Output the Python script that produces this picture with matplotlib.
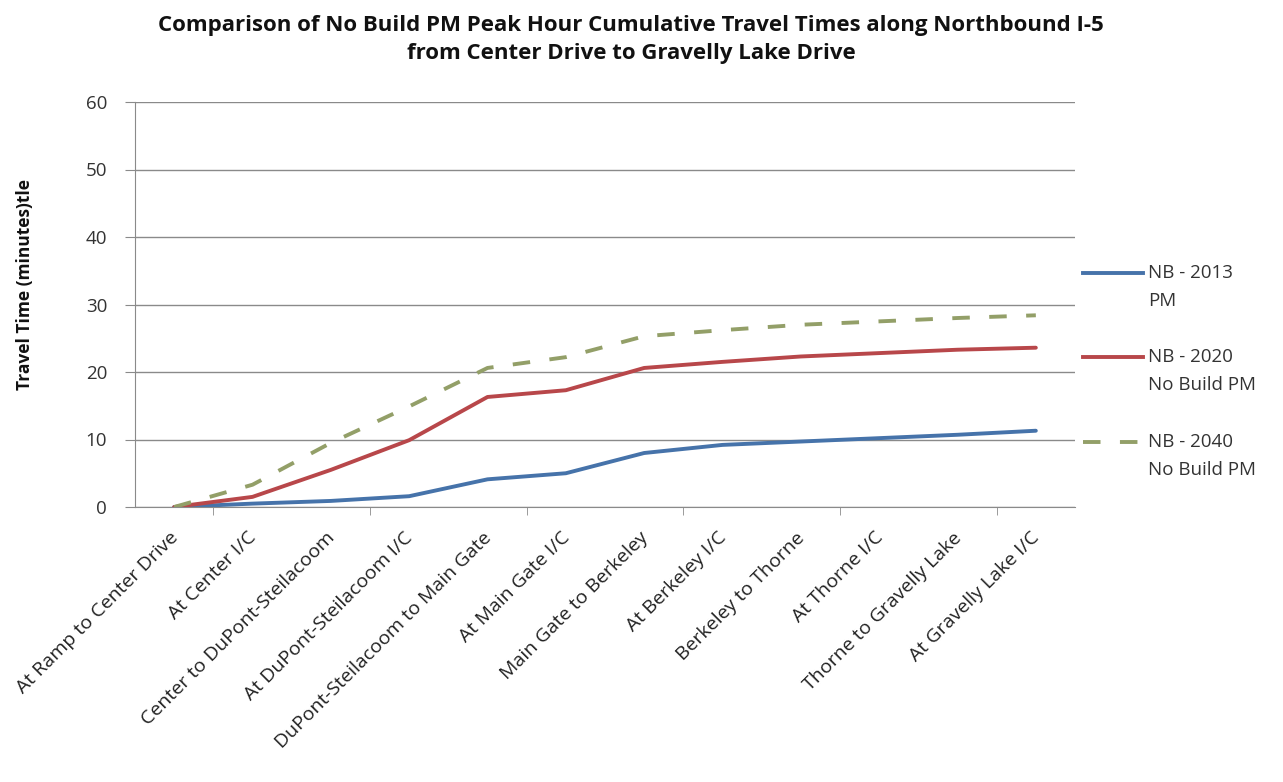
import matplotlib
matplotlib.use("Agg")
import matplotlib.pyplot as plt
from matplotlib.lines import Line2D

categories = ["At Ramp to Center Drive", "At Center I/C", "Center to DuPont-Steilacoom",
              "At DuPont-Steilacoom I/C", "DuPont-Steilacoom to Main Gate", "At Main Gate I/C",
              "Main Gate to Berkeley", "At Berkeley I/C", "Berkeley to Thorne", "At Thorne I/C",
              "Thorne to Gravelly Lake", "At Gravelly Lake I/C"]
nb2013 = [0.0, 0.5, 0.9, 1.6, 4.1, 5.0, 8.0, 9.2, 9.7, 10.2, 10.7, 11.3]
nb2020 = [0.0, 1.5, 5.5, 9.9, 16.3, 17.3, 20.6, 21.5, 22.3, 22.8, 23.3, 23.6]
nb2040 = [0.0, 3.3, 9.5, 14.9, 20.6, 22.2, 25.3, 26.2, 27.0, 27.5, 28.0, 28.4]
series_labels = [("NB - 2013", "PM"), ("NB - 2020", "No Build PM"), ("NB - 2040", "No Build PM")]
yticks = [0, 10, 20, 30, 40, 50, 60]

FONT = "Open Sans"
W, H = 1283, 782
fig = plt.figure(figsize=(W / 100, H / 100), dpi=100)
ax = fig.add_axes([135 / W, 1 - 507 / H, (1075 - 135) / W, (507 - 102) / H])

x = list(range(len(categories)))
colors = ["#4673AA", "#B8474A", "#939F68"]
styles = [dict(ls="-"), dict(ls="-"), dict(ls=(0, (4.5, 5.0)))]
for vals, c, st in zip([nb2013, nb2020, nb2040], colors, styles):
    ax.plot(x, vals, color=c, lw=2.8, solid_capstyle="round", **st)

ax.set_xlim(-0.5, len(categories) - 0.5)
ax.set_ylim(0, 60)
ax.set_yticks(yticks)
ax.set_yticklabels([str(v) for v in yticks], fontsize=13.5, family=FONT, color="#333333")
ax.yaxis.grid(True, color="#8a8a8a", lw=1.0)
ax.set_axisbelow(True)
ax.tick_params(axis="y", length=7, color="#8a8a8a", pad=13)

ax.set_xticks(x)
ax.set_xticklabels([])
ax.set_xticks([i + 0.5 for i in range(0, len(categories) - 1, 2)], minor=True)
ax.tick_params(axis="x", which="major", length=0)
ax.tick_params(axis="x", which="minor", length=6, color="#8a8a8a", direction="out")
for i, lab in enumerate(categories):
    ax.text(i - 0.07, -3.2, lab, rotation=45, ha="right", va="top", rotation_mode="anchor",
            fontsize=14, family=FONT, color="#222222")

for s in ["top", "right"]:
    ax.spines[s].set_visible(False)
for s in ["left", "bottom"]:
    ax.spines[s].set_color("#8a8a8a")

fig.text(631 / W, 1 - 25 / H, "Comparison of No Build PM Peak Hour Cumulative Travel Times along Northbound I-5",
         ha="center", va="center", fontsize=16, fontweight="bold", family=FONT, color="#111111")
fig.text(631 / W, 1 - 54 / H, "from Center Drive to Gravelly Lake Drive",
         ha="center", va="center", fontsize=16, fontweight="bold", family=FONT, color="#111111")
fig.text(25 / W, 1 - 285 / H, "Travel Time (minutes)tle", rotation=90, ha="center", va="center",
         fontsize=12.5, fontweight="bold", family=FONT, color="#111111")

leg_y = [273, 357, 442]
for yy, c, st, (l1, l2) in zip(leg_y, colors, styles, series_labels):
    fig.add_artist(Line2D([1083 / W, 1143 / W], [1 - yy / H, 1 - yy / H], color=c, lw=2.8,
                          transform=fig.transFigure, **st))
    fig.text(1148 / W, 1 - yy / H, l1, ha="left", va="center", fontsize=13.5, family=FONT, color="#333333")
    fig.text(1148 / W, 1 - (yy + 28) / H, l2, ha="left", va="center", fontsize=13.5, family=FONT, color="#333333")

fig.savefig("out.png", dpi=100, facecolor="white")
